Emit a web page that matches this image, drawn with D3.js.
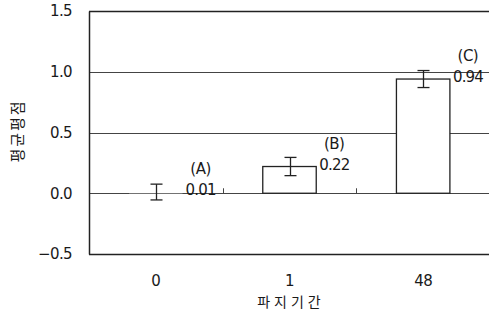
<!DOCTYPE html>
<html>
<head>
<meta charset="utf-8">
<script src="https://cdn.jsdelivr.net/npm/d3@7"></script>
<style>
  body { margin: 0; background: #fff; }
  text { font-family: "DejaVu Sans", "Noto Sans CJK KR", sans-serif; fill: #1a1a1a; }
  .kr { font-family: "Noto Sans CJK KR", sans-serif; }
</style>
</head>
<body>
<script>
// #Data
const categories = ['0', '1', '48'];
const means = [0.01, 0.22, 0.94];
const errors = [0.065, 0.075, 0.07];
const groups = ['(A)', '(B)', '(C)'];
const yTicks = [-0.5, 0.0, 0.5, 1.0, 1.5];

// #Define SVG
const width = 489, height = 318;
const svg = d3.select('body')
              .append('svg')
              .attr('width', width)
              .attr('height', height);

const plotL = 89, plotR = 489, plotT = 11, plotB = 254;

// #Scales
const x = d3.scaleBand()
            .domain(categories)
            .range([plotL, plotR + 1]);
const y = d3.scaleLinear()
            .domain([-0.5, 1.5])
            .range([plotB, plotT]);
const barW = x.bandwidth() * 0.4;

// #Gridlines and frame
svg.append('g')
   .selectAll('line')
   .data(yTicks)
   .enter()
   .append('line')
   .attr('x1', plotL)
   .attr('x2', width + 5)
   .attr('y1', d => Math.round(y(d)) + 0.5)
   .attr('y2', d => Math.round(y(d)) + 0.5)
   .attr('stroke', d => (d === 1.5 || d === -0.5) ? '#222' : '#444')
   .attr('stroke-width', d => (d === 1.5 || d === -0.5) ? 1.5 : 1);

// #Category ticks on the zero line
svg.append('g')
   .selectAll('line')
   .data(categories.slice(1))
   .enter()
   .append('line')
   .attr('x1', d => Math.round(x(d)) + 0.5)
   .attr('x2', d => Math.round(x(d)) + 0.5)
   .attr('y1', y(0))
   .attr('y2', y(0) - 5)
   .attr('stroke', '#444');

// #Y axis
const yAxis = d3.axisLeft(y)
                .tickValues(yTicks)
                .tickSize(0)
                .tickPadding(17)
                .tickFormat(d3.format('.1f'));
const gy = svg.append('g')
              .attr('transform', 'translate(' + plotL + ',0)')
              .call(yAxis);
gy.select('.domain').attr('stroke', '#222').attr('stroke-width', 1.5);
gy.selectAll('text')
  .style('font-size', '15px')
  .style('letter-spacing', '-0.6px')
  .text(d => d < 0 ? '\u2212' + Math.abs(d).toFixed(1) : d.toFixed(1));

// #Bars
const data = categories.map((c, i) => ({c, m: means[i], e: errors[i], g: groups[i]}));
svg.append('g')
   .selectAll('rect')
   .data(data)
   .enter()
   .append('rect')
   .attr('x', d => x(d.c) + x.bandwidth() / 2 - barW / 2)
   .attr('y', d => y(d.m))
   .attr('width', barW)
   .attr('height', d => y(0) - y(d.m))
   .attr('fill', '#fff')
   .attr('stroke', d => (y(0) - y(d.m)) < 2 ? 'none' : '#222')
   .attr('stroke-width', 1.3);

// #Error bars
const eb = svg.append('g').attr('stroke', '#222').attr('stroke-width', 1.3);
data.forEach(d => {
    const cx = Math.round(x(d.c) + x.bandwidth() / 2) + 0.5;
    eb.append('line').attr('x1', cx).attr('x2', cx)
      .attr('y1', y(d.m + d.e)).attr('y2', y(d.m - d.e));
    [d.m + d.e, d.m - d.e].forEach(v => {
        eb.append('line').attr('x1', cx - 6).attr('x2', cx + 6)
          .attr('y1', y(v)).attr('y2', y(v));
    });
});

// #Value and group labels
const labels = svg.append('g');
labels.selectAll('.val')
      .data(data)
      .enter()
      .append('text')
      .attr('x', d => x(d.c) + x.bandwidth() / 2 + barW / 2 + 3)
      .attr('y', d => y(d.m) - 2)
      .attr('dy', '0.35em')
      .style('font-size', '15px')
      .style('letter-spacing', '-0.8px')
      .text(d => d.m.toFixed(2));
labels.selectAll('.grp')
      .data(data)
      .enter()
      .append('text')
      .attr('x', d => x(d.c) + x.bandwidth() / 2 + barW / 2 + 18)
      .attr('y', d => y(d.m) - 23)
      .attr('dy', '0.35em')
      .attr('text-anchor', 'middle')
      .style('font-size', '15px')
      .style('letter-spacing', '-0.5px')
      .text(d => d.g);

// #X axis labels
svg.append('g')
   .selectAll('text')
   .data(categories)
   .enter()
   .append('text')
   .attr('x', d => x(d) + x.bandwidth() / 2)
   .attr('y', 281)
   .attr('dy', '0.35em')
   .attr('text-anchor', 'middle')
   .style('font-size', '15px')
   .style('letter-spacing', '-0.6px')
   .text(d => d);

// #Axis titles
svg.append('text')
   .attr('class', 'kr')
   .attr('x', 291)
   .attr('y', 302)
   .attr('dy', '0.35em')
   .attr('text-anchor', 'middle')
   .style('font-size', '14px')
   .style('letter-spacing', '4px')
   .text('파지기간');
svg.append('text')
   .attr('class', 'kr')
   .attr('transform', 'translate(18,131) rotate(-90)')
   .attr('dy', '0.35em')
   .attr('text-anchor', 'middle')
   .style('font-size', '15px')
   .style('letter-spacing', '2px')
   .text('평균평점');
</script>
</body>
</html>
